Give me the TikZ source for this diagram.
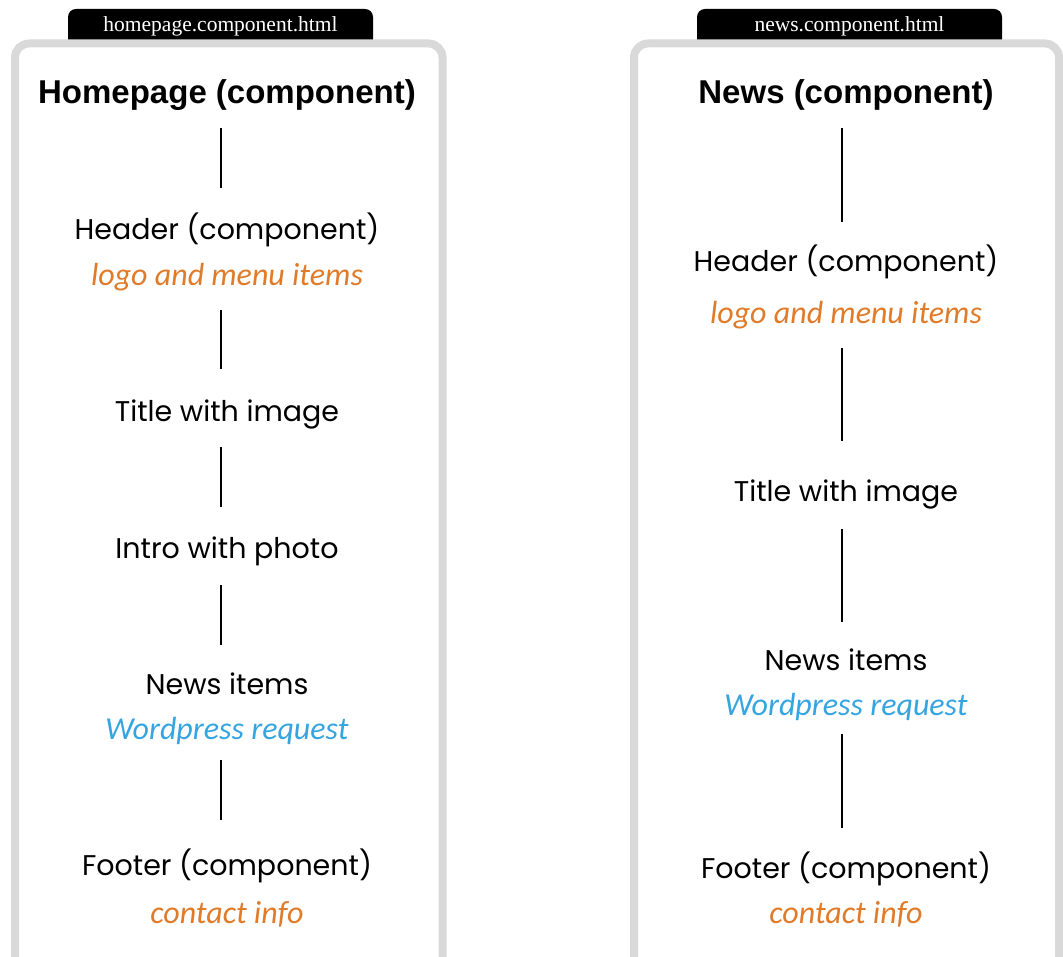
\documentclass[tikz,border=0pt]{standalone}
\usepackage{fontspec}
\setmainfont{Poppins}
\newfontfamily\tabfont{Liberation Serif}
\newfontfamily\titlefont{Liberation Sans}
\newfontfamily\notefont{Carlito}
\definecolor{boxgray}{HTML}{D9D9D9}
\definecolor{noteorange}{HTML}{E07B2A}
\definecolor{noteblue}{HTML}{35A5E0}
\begin{document}
\begin{tikzpicture}[x=1pt, y=-1pt,
  tab/.style={fill=black, text=white, rounded corners=8pt, inner sep=0pt,
    minimum width=305pt, text height=23pt, text depth=15pt, anchor=base,
    font=\tabfont\fontsize{21.5}{21.5}\selectfont},
  frame/.style={draw=boxgray, line width=8pt, rounded corners=14pt},
  heading/.style={anchor=base, inner sep=0pt, font=\titlefont\bfseries\fontsize{33}{33}\selectfont},
  item/.style={anchor=base, inner sep=0pt, font=\fontsize{28.5}{28.5}\selectfont},
  note/.style={anchor=base, inner sep=0pt, font=\notefont\itshape\fontsize{32}{32}\selectfont},
  orangenote/.style={note, text=noteorange},
  bluenote/.style={note, text=noteblue},
  link/.style 2 args={draw, line width=1.3pt, shorten <=#1pt, shorten >=#2pt}]
\useasboundingbox (0,0) rectangle (1063,957);

% file tabs (their lower edge is hidden under the frames)
\node[tab] (tabL) at (220.5,32) {homepage.component.html};
\node[tab] (tabR) at (849.5,32) {news.component.html};

% component frames
\draw[frame] (15,43.5) rectangle (442.5,980);
\draw[frame] (634,43.5) rectangle (1059,980);

% axes of the connectors
\coordinate (axisL) at (221,0);
\coordinate (axisR) at (842,0);

% homepage component tree
\node[heading] (L0) at (227,104) {Homepage (component)};
\node[item] (L1) at (227,240) {Header (component)};
\node[orangenote] (L1s) at (227,286) {logo and menu items};
\node[item] (L2) at (227,421) {Title with image};
\node[item] (L3) at (227,558) {Intro with photo};
\node[item] (L4) at (227,694) {News items};
\node[bluenote] (L4s) at (227,739) {Wordpress request};
\node[item] (L5) at (227,875) {Footer (component)};
\node[orangenote] (L5s) at (227,923) {contact info};

\draw[link={24}{52}] (L0.base -| axisL) -- (L1.base -| axisL);
\draw[link={24}{52}] (L1s.base -| axisL) -- (L2.base -| axisL);
\draw[link={26}{51}] (L2.base -| axisL) -- (L3.base -| axisL);
\draw[link={27}{49}] (L3.base -| axisL) -- (L4.base -| axisL);
\draw[link={21}{55}] (L4s.base -| axisL) -- (L5.base -| axisL);

% news component tree
\node[heading] (R0) at (846,104) {News (component)};
\node[item] (R1) at (846,272) {Header (component)};
\node[orangenote] (R1s) at (846,324) {logo and menu items};
\node[item] (R2) at (846,501) {Title with image};
\node[item] (R4) at (846,670) {News items};
\node[bluenote] (R4s) at (846,715) {Wordpress request};
\node[item] (R5) at (846,878) {Footer (component)};
\node[orangenote] (R5s) at (846,923) {contact info};

\draw[link={24}{50}] (R0.base -| axisR) -- (R1.base -| axisR);
\draw[link={24}{60}] (R1s.base -| axisR) -- (R2.base -| axisR);
\draw[link={28}{48}] (R2.base -| axisR) -- (R4.base -| axisR);
\draw[link={19}{50}] (R4s.base -| axisR) -- (R5.base -| axisR);
\end{tikzpicture}
\end{document}
